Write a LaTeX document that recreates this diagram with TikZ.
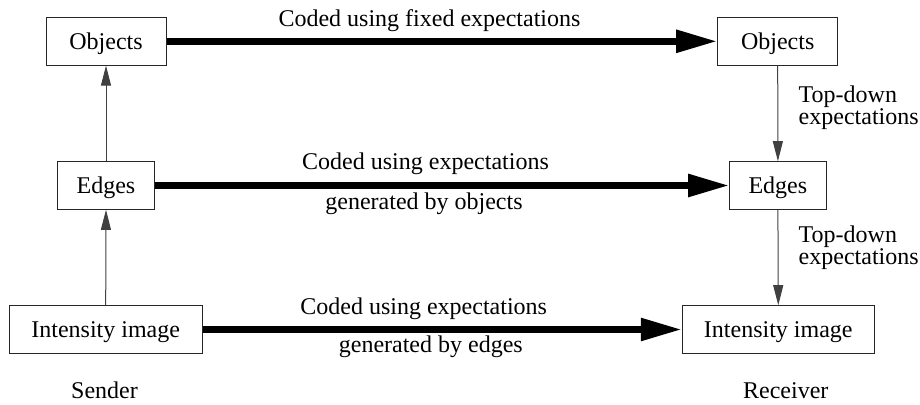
\documentclass[tikz,border=0pt]{standalone}
\usepackage{fontspec}
\setmainfont{Liberation Serif}
\usetikzlibrary{arrows.meta}
\begin{document}
\begin{tikzpicture}[x=0.5pt,y=-0.5pt,
  font=\fontsize{12}{11}\selectfont,
  levelbox/.style={draw=black!85,line width=0.5pt,inner sep=0pt,
    text height=9pt,text depth=1pt,minimum height=23.8pt},
  coded/.style={line width=3.35pt,-{Triangle[length=20.5pt,width=10.8pt]}},
  expect/.style={draw=black!75,line width=0.5pt,-{Triangle[length=10pt,width=5pt]}},
  lbl/.style={inner sep=0pt,anchor=base},
  sidelbl/.style={inner sep=0pt,anchor=base west,align=left}]
\useasboundingbox (0,0) rectangle (920,405);

% sender side
\node[levelbox,minimum width=60pt]   (objL)   at (106,41.3)  {Objects};
\node[levelbox,minimum width=48.3pt] (edgeL)  at (106,185.5) {Edges};
\node[levelbox,minimum width=96.4pt] (intL)   at (105.7,329.5) {Intensity image};

% receiver side
\node[levelbox,minimum width=60pt]   (objR)   at (777.7,41.3)  {Objects};
\node[levelbox,minimum width=48.2pt] (edgeR)  at (777.9,185.5) {Edges};
\node[levelbox,minimum width=96pt]   (intR)   at (778.3,329.5) {Intensity image};

% bottom-up on the sender
\draw[expect] (edgeL.north) -- (objL.south);
\draw[expect] (intL.north) -- (edgeL.south);

% top-down on the receiver
\draw[expect] (objR.south) -- (edgeR.north);
\draw[expect] (edgeR.south) -- (intR.north);

% transmitted codes
\draw[coded] (objL.east) -- (objR.west);
\draw[coded] (edgeL.east) -- (edgeR.west);
\draw[coded] (intL.east) -- (intR.west);

% labels
\node[lbl] (c1) at (429.5,26.7) {Coded using fixed expectations};
\node[lbl] (c2) at (425.5,170) {Coded using expectations};
\node[lbl] (g2) at (424,209.5) {generated by objects};
\node[lbl] (c3) at (423.7,315) {Coded using expectations};
\node[lbl] (g3) at (430.8,353) {generated by edges};

% base anchor sits on the last line
\node[sidelbl] (td1) at (798.3,124.5) {Top-down\\expectations};
\node[sidelbl] (td2) at (798.3,265) {Top-down\\expectations};

\node[lbl] (snd) at (104.5,398) {Sender};
\node[lbl] (rcv) at (785.8,398) {Receiver};
\end{tikzpicture}
\end{document}
